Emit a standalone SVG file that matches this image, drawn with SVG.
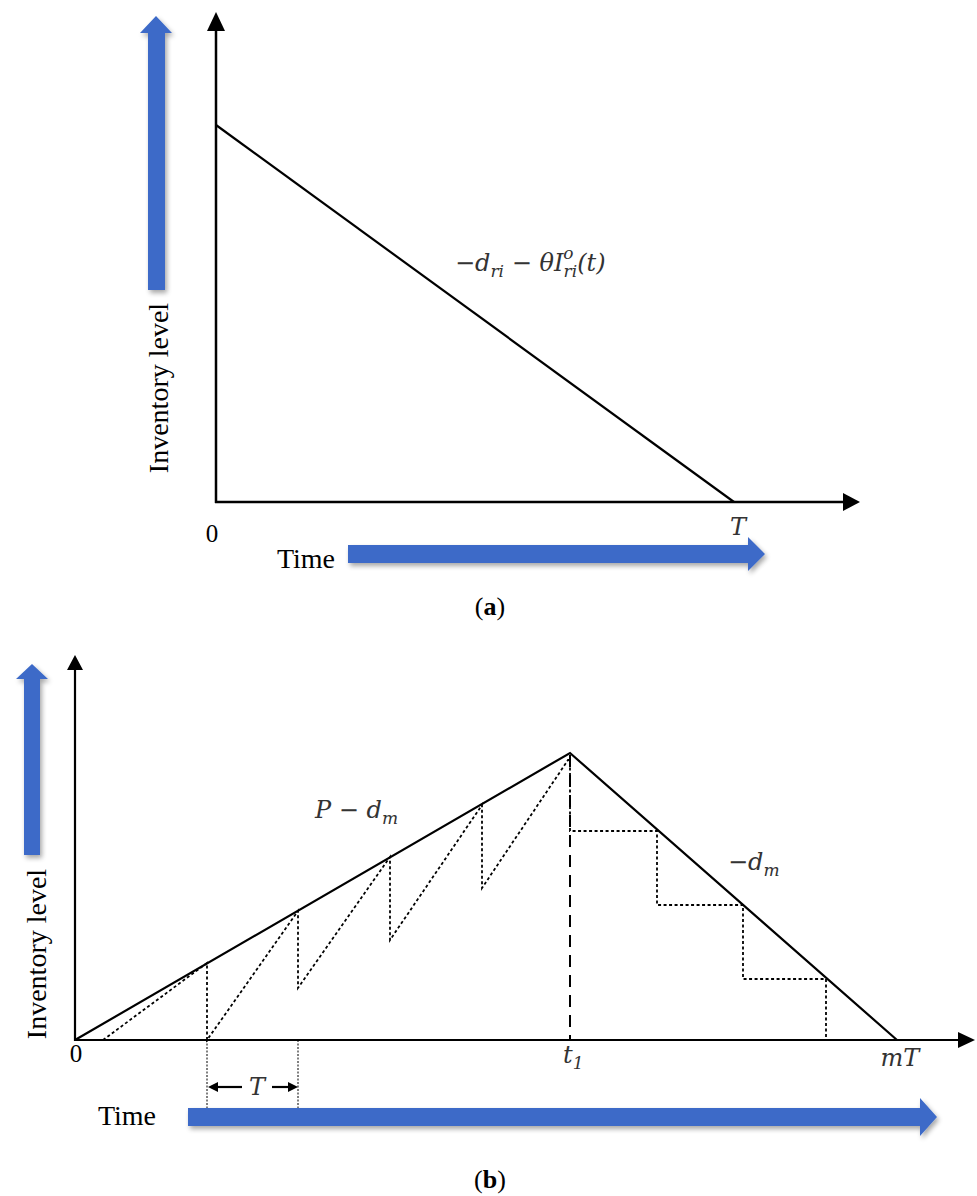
<svg xmlns="http://www.w3.org/2000/svg" width="977" height="1196" viewBox="0 0 977 1196">
<style>
.ax{stroke:#000;stroke-width:2.5;fill:none}
.ln{stroke:#000;stroke-width:2.2;fill:none}
.dot{stroke:#000;stroke-width:1.8;fill:none;stroke-dasharray:3 2.5}
.dash{stroke:#000;stroke-width:2;fill:none;stroke-dasharray:12 8}
.thin{stroke:#000;stroke-width:1;fill:none;stroke-dasharray:2 1.5}
.head{fill:#000}
.blue{fill:#3C6BC8;filter:url(#sh)}
.lbl{font-family:"Liberation Serif",serif;font-size:28px;fill:#000}
.num{font-family:"Liberation Serif",serif;font-size:25px;fill:#000}
.m{font-family:"DejaVu Serif",serif;font-style:italic;font-size:24px;fill:#333}
.sub{font-size:17px}
.cap{font-family:"Liberation Serif",serif;font-size:26px;fill:#000}
</style>
<defs>
<filter id="sh" x="-20%" y="-20%" width="140%" height="140%">
<feGaussianBlur in="SourceAlpha" stdDeviation="2.5"/>
<feOffset dx="2" dy="3" result="b"/>
<feComponentTransfer><feFuncA type="linear" slope="0.35"/></feComponentTransfer>
<feMerge><feMergeNode/><feMergeNode in="SourceGraphic"/></feMerge>
</filter>
</defs>

<g id="panel-a">
<g id="a-axes">
<line class="ax" x1="216" y1="503" x2="216" y2="28"/>
<polygon class="head" points="216,12 207,31 225,31"/>
<line class="ax" x1="215" y1="502" x2="845" y2="502"/>
<polygon class="head" points="860,502 843,493 843,511"/>
</g>
<g id="a-blue-arrows">
<polygon class="blue" points="156,16 172,33 165,33 165,290 148,290 148,33 140,33"/>
<polygon class="blue" points="348,545 748,545 748,537 765,554 748,571 748,563 348,563"/>
</g>
<g id="a-line">
<line class="ln" x1="216" y1="125" x2="734" y2="502"/>
</g>
<g id="a-labels">
<text class="lbl" transform="translate(168,388) rotate(-90)" text-anchor="middle">Inventory level</text>
<text class="lbl" x="306" y="568" text-anchor="middle">Time</text>
<text class="num" x="212" y="542" text-anchor="middle">0</text>
<text class="m" x="738" y="535" text-anchor="middle">T</text>
<text class="m" x="455" y="271" font-size="25">−d<tspan class="sub" dy="6">ri</tspan><tspan dy="-6"> − θI</tspan><tspan class="sub" dy="-12">o</tspan><tspan class="sub" dx="-10" dy="18">ri</tspan><tspan dy="-6">(t)</tspan></text>
<text class="cap" x="490" y="615" text-anchor="middle">(<tspan font-weight="bold">a</tspan>)</text>
</g>
</g>

<g id="panel-b">
<g id="b-axes">
<line class="ln" x1="75" y1="1041" x2="75" y2="668"/>
<polygon class="head" points="75,655 67,670 83,670"/>
<line class="ln" x1="74" y1="1040" x2="960" y2="1040"/>
<polygon class="head" points="975,1040 958,1032 958,1048"/>
</g>
<g id="b-blue-arrows">
<polygon class="blue" points="32,664 48,679 40,679 40,855 24,855 24,679 16,679"/>
<polygon class="blue" points="188,1108 920,1108 920,1098 937,1117 920,1136 920,1126 188,1126"/>
</g>
<g id="connectors">
<polyline class="ln" points="75,1040 570,753 897,1040"/>
<line class="dash" x1="570" y1="755" x2="570" y2="1040"/>
<polyline class="dot" points="103,1040 207,963 207,1040 298,911 298,988 390,857 390,940 482,805 482,888 568,760 570,760 570,831 657,831 657,905 743,905 743,979 826,979 826,1040"/>
<line class="thin" x1="207" y1="1040" x2="207" y2="1108"/>
<line class="thin" x1="298" y1="1040" x2="298" y2="1108"/>
<line class="ln" x1="214" y1="1087" x2="242" y2="1087" stroke-width="1.5"/>
<polygon class="head" points="208,1087 218,1082 218,1092"/>
<line class="ln" x1="272" y1="1087" x2="292" y2="1087" stroke-width="1.5"/>
<polygon class="head" points="298,1087 288,1082 288,1092"/>
</g>
<g id="b-labels">
<text class="lbl" transform="translate(46,954) rotate(-90)" text-anchor="middle">Inventory level</text>
<text class="lbl" x="127" y="1125" text-anchor="middle">Time</text>
<text class="num" x="76" y="1062" text-anchor="middle">0</text>
<text class="m" x="257" y="1095" text-anchor="middle">T</text>
<text class="m" x="563" y="1063">t<tspan class="sub" dy="6">1</tspan></text>
<text class="m" x="900" y="1066" text-anchor="middle">mT</text>
<text class="m" x="315" y="818">P − d<tspan class="sub" dy="6">m</tspan></text>
<text class="m" x="728" y="870">−d<tspan class="sub" dy="6">m</tspan></text>
<text class="cap" x="490" y="1188" text-anchor="middle">(<tspan font-weight="bold">b</tspan>)</text>
</g>
</g>
</svg>
